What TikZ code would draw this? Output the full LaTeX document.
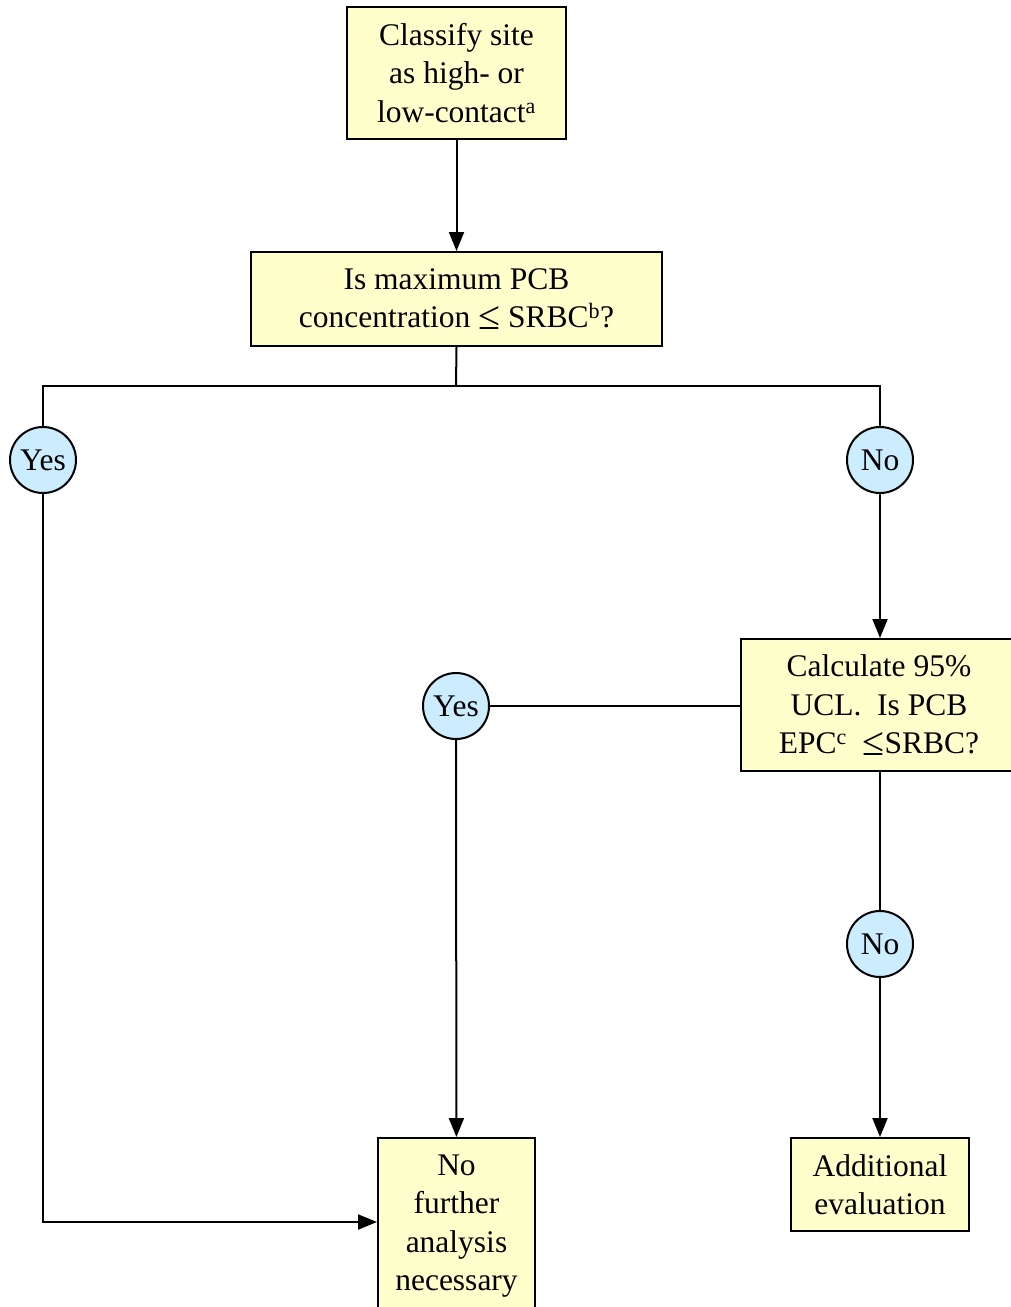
\documentclass[tikz,border=0pt]{standalone}
\usepackage{fontspec}
\setmainfont{Liberation Serif}
\usetikzlibrary{arrows.meta}
\definecolor{boxfill}{HTML}{FFFFCC}
\definecolor{circfill}{HTML}{CCECFF}
\newcommand{\myleq}{{\fontsize{40}{38.5}\selectfont\raisebox{-1.5pt}{≤}}}
\tikzset{
  box/.style={draw=black, line width=2pt, fill=boxfill, inner sep=0pt, align=center,
    font=\fontsize{31.5}{38.5}\selectfont},
  ans/.style={draw=black, line width=2pt, fill=circfill, circle, inner sep=0pt,
    minimum size=66pt, font=\fontsize{31.5}{38.5}\selectfont},
  conn/.style={line width=2pt, draw=black},
  arr/.style={conn, -{Triangle[length=19pt,width=15pt]}}
}
\begin{document}
\begin{tikzpicture}[x=1pt,y=-1pt]
\useasboundingbox (0,0) rectangle (1011,1307);
\node[box, minimum width=219pt, minimum height=132pt] (b1) at (456.5,73) {Classify site\\as high- or\\low-contact\textsuperscript{a}};
\node[box, minimum width=411pt, minimum height=94pt] (b2) at (456.5,299) {Is maximum PCB\\concentration \myleq{} SRBC\textsuperscript{b}?};
\coordinate (j) at (456,386);
\node[ans] (y1) at (43,460) {Yes};
\node[ans] (n1) at (880,460) {No};
\node[box, minimum width=276pt, minimum height=132pt] (b3) at (879,705) {Calculate 95\%\\UCL.\ \ Is PCB\\EPC\textsuperscript{c}\ \ \myleq SRBC?};
\node[ans] (y2) at (456,706) {Yes};
\node[ans] (n2) at (880,944) {No};
\node[box, minimum width=157pt, minimum height=176pt] (b4) at (456.5,1226) {No\\further\\analysis\\necessary};
\node[box, minimum width=178pt, minimum height=93pt] (b5) at (880,1184.5) {Additional\\evaluation};
\draw[arr] (b1) -- (b2);
\draw[conn] (b2.south) -- (j);
\draw[conn] (y1.north) |- (j) -| (n1.north);
\draw[arr] (n1) -- (n1 |- b3.north);
\draw[conn] (y2) -- (b3.west |- y2);
\draw[arr] (y2) -- (b4);
\draw[conn] (n2 |- b3.south) -- (n2);
\draw[arr] (n2) -- (b5);
\draw[arr] (y1) |- (b4.west |- 0,1222);
\end{tikzpicture}
\end{document}
